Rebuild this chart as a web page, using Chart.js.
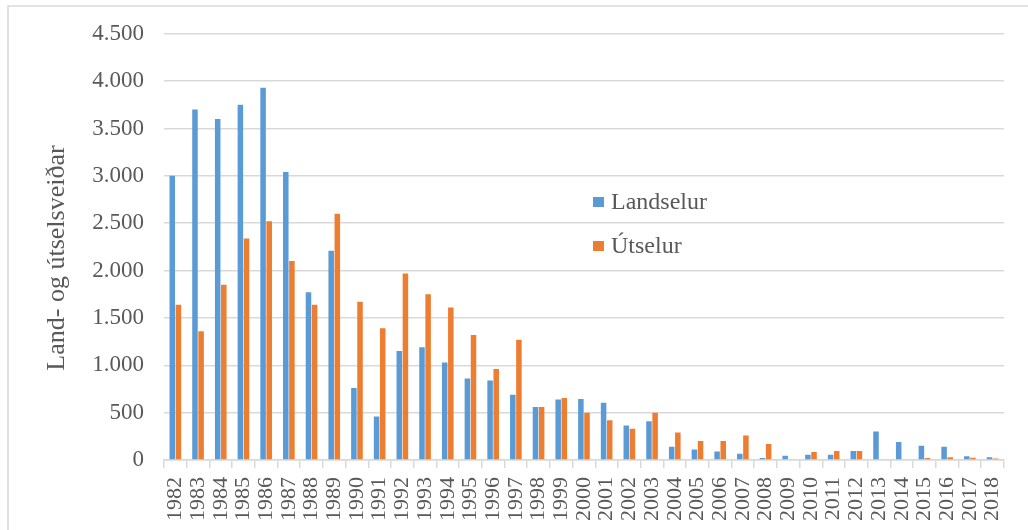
<!DOCTYPE html>
<html>
<head>
<meta charset="utf-8">
<script src="https://cdn.jsdelivr.net/npm/chart.js@4"></script>
<style>
  html, body { margin: 0; padding: 0; background: #fff; }
  #wrap { width: 1028px; height: 530px; }
</style>
</head>
<body>
<div id="wrap"><canvas id="barchart" width="1028" height="530"></canvas></div>
<script>
const years = ["1982", "1983", "1984", "1985", "1986", "1987", "1988", "1989", "1990", "1991",
  "1992", "1993", "1994", "1995", "1996", "1997", "1998", "1999", "2000", "2001",
  "2002", "2003", "2004", "2005", "2006", "2007", "2008", "2009", "2010", "2011",
  "2012", "2013", "2014", "2015", "2016", "2017", "2018"];

const landselur = [3000, 3700, 3600, 3750, 3930, 3040, 1770, 2210, 760, 460,
  1150, 1190, 1030, 860, 840, 690, 560, 640, 645, 605,
  365, 410, 140, 110, 90, 65, 20, 45, 55, 55,
  95, 300, 190, 150, 140, 40, 30];

const utselur = [1640, 1360, 1850, 2340, 2520, 2100, 1640, 2600, 1670, 1390,
  1970, 1750, 1610, 1320, 960, 1270, 560, 655, 500, 420,
  330, 500, 290, 200, 200, 260, 170, 0, 85, 95,
  95, 0, 0, 20, 30, 25, 15];

const yTitle = "Land- og útselsveiðar";

const textColor = "#595959";
const gridColor = "#d9d9d9";
const serif = "'Liberation Serif', 'Times New Roman', serif";

// frame, y title and legend drawn by hand
const extras = {
  id: "extras",
  beforeDraw(chart) {
    const c = chart.ctx;
    c.save();
    c.strokeStyle = gridColor;
    c.lineWidth = 1.5;
    c.beginPath();
    c.moveTo(8, 530);
    c.lineTo(8, 6);
    c.lineTo(1028, 6);
    c.stroke();
    c.restore();
  },
  afterDraw(chart) {
    const c = chart.ctx;
    c.save();
    c.fillStyle = textColor;
    c.font = "26px " + serif;
    c.translate(57, 258);
    c.rotate(-Math.PI / 2);
    c.textAlign = "center";
    c.textBaseline = "middle";
    c.fillText(yTitle, 0, 0);
    c.restore();

    c.save();
    c.font = "24px " + serif;
    c.textBaseline = "alphabetic";
    chart.data.datasets.forEach((ds, i) => {
      const y = 202 + i * 44;
      c.fillStyle = ds.backgroundColor;
      c.fillRect(593, y - 5, 11, 10);
      c.fillStyle = textColor;
      c.fillText(ds.label, 611, y + 7);
    });
    c.restore();
  }
};

const ctx = document.getElementById("barchart").getContext("2d");
const barchart = new Chart(ctx, {
  type: "bar",
  data: {
    labels: years,
    datasets: [
      {
        label: "Landselur",
        data: landselur,
        backgroundColor: "#5b9bd5",
        categoryPercentage: 0.54,
        barPercentage: 0.9,
      },
      {
        label: "Útselur",
        data: utselur,
        backgroundColor: "#ed7d31",
        categoryPercentage: 0.54,
        barPercentage: 0.9,
      },
    ],
  },
  options: {
    responsive: false,
    animation: false,
    layout: { padding: { top: 32, right: 3, left: 0, bottom: 0 } },
    plugins: {
      legend: { display: false },
      tooltip: { enabled: false },
    },
    scales: {
      x: {
        grid: {
          offset: true,
          drawOnChartArea: false,
          drawTicks: true,
          tickLength: 8,
          color: gridColor,
          lineWidth: 1.5,
        },
        border: { color: gridColor, width: 1.5 },
        ticks: {
          color: textColor,
          font: { family: serif, size: 22 },
          minRotation: 90,
          maxRotation: 90,
          autoSkip: false,
          padding: 9,
        },
        afterFit(scale) { scale.height = 70; },
      },
      y: {
        min: 0,
        max: 4500,
        ticks: {
          stepSize: 500,
          color: textColor,
          font: { family: serif, size: 23 },
          padding: 20,
          callback: (v) => String(v).replace(/\B(?=(\d{3})+(?!\d))/g, "."),
        },
        grid: { color: gridColor, lineWidth: 1.5, drawTicks: false },
        border: { display: false },
        afterFit(scale) { scale.width = 164; },
      },
    },
  },
  plugins: [extras],
});
</script>
</body>
</html>
